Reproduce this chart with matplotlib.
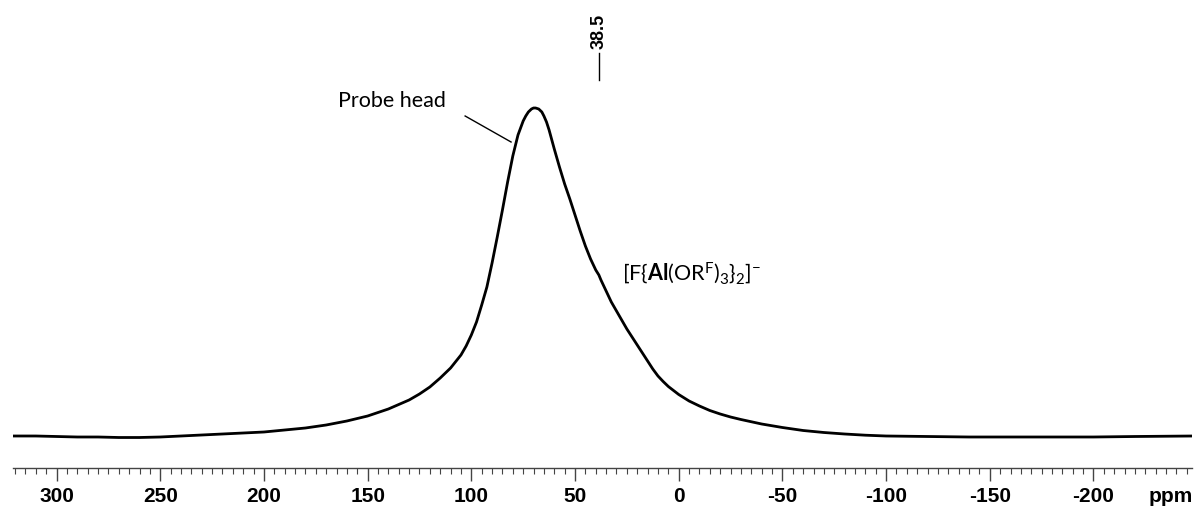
import matplotlib
matplotlib.use("Agg")
import matplotlib.pyplot as plt
import numpy as np

# Spectrum (chemical shift in ppm, intensity in arbitrary units)
ppm = [321, 310, 300, 290, 280, 270, 260, 250, 240, 230, 220, 210, 200, 190, 180,
       170, 160, 150, 140, 130, 125, 120, 115, 110, 105, 102.5, 100, 97.5, 95, 92.5, 90,
       87.5, 85, 82.5, 80, 77.5, 75, 73.75, 72.5, 71, 70, 69, 67.5, 66, 65, 63.75, 62.5,
       60, 57.5, 55, 52.5,
       50, 47.5, 45, 42.5, 40, 38.5, 37.5, 35, 32.5, 30, 27.5, 25, 22.5, 20, 17.5,
       15, 12.5, 10, 7.5, 5, 2.5, 0, -5, -10, -15, -20, -25, -30, -40, -50, -60,
       -70, -80, -90, -100, -120, -140, -160, -180, -200, -220, -248]
intensity = [1, 1, 0.5, 0, 0, -0.5, -0.5, 0, 1, 2, 3, 4, 5, 7, 9,
             12, 16, 21, 28, 37, 43, 50, 59, 69, 82, 91, 102, 115, 132, 150, 174,
             200, 227, 255, 281, 302, 316, 321, 325, 328, 329, 329, 328, 325, 321, 315, 307,
             288, 270, 253, 238,
             222, 206, 191, 178, 167, 162, 157, 146, 135, 126, 117, 108, 100, 92, 84,
             76, 68, 61, 55.5, 50.5, 46.5, 42.5, 36, 31, 26.5, 23, 20, 17.5, 13, 9.5, 6.5,
             4.5, 3, 1.8, 1, 0.5, 0, 0, 0, 0, 0.5, 1]

major_ticks = [300, 250, 200, 150, 100, 50, 0, -50, -100, -150, -200]
tick_labels = ["300", "250", "200", "150", "100", "50", "0", "-50", "-100", "-150", "-200"]

peak_label = "38.5"
peak_pos = 38.5

W, H = 1201, 514
fig = plt.figure(figsize=(W / 100, H / 100), dpi=100)
ax = fig.add_axes([13 / W, 1 - 468 / H, (1192 - 13) / W, 468 / H])

ax.plot(ppm, intensity, color="black", lw=2.0, solid_joinstyle="round")

ax.set_xlim(321, -247.5)
ax.set_ylim(437 - 468, 437)

for s in ["left", "right", "top"]:
    ax.spines[s].set_visible(False)
ax.spines["bottom"].set_color("#444444")
ax.spines["bottom"].set_linewidth(1.0)
ax.set_yticks([])

ax.set_xticks(major_ticks)
ax.set_xticklabels(tick_labels, fontfamily="Liberation Sans", fontweight="bold", fontsize=15)
ax.set_xticks(np.arange(320, -250, -5), minor=True)
ax.tick_params(axis="x", which="major", length=9, width=1.0, color="#444444", pad=5)
ax.tick_params(axis="x", which="minor", length=4, width=0.8, color="#444444")

fig.text(1171 / W, 1 - 497 / H, "ppm", ha="center", va="center",
         fontfamily="Liberation Sans", fontweight="bold", fontsize=15)

# peak marker
ax.plot([peak_pos, peak_pos], [437 - 80, 437 - 53], color="black", lw=1.0)
ax.text(peak_pos, 437 - 31, peak_label, rotation=90, ha="center", va="center",
        fontfamily="Liberation Sans", fontweight="bold", fontsize=13)

# Probe head annotation
ax.text((680 - 393) / 2.078, 437 - 101, "Probe head", ha="center", va="center",
        fontfamily="Lato", fontsize=15.5)
ax.plot([(680 - 466) / 2.078, (680 - 512) / 2.078], [437 - 116, 437 - 142], color="black", lw=1.0)

plt.rcParams["mathtext.fontset"] = "custom"
plt.rcParams["mathtext.rm"] = "Lato"
plt.rcParams["mathtext.bf"] = "Lato:bold"
plt.rcParams["mathtext.it"] = "Lato:italic"

anion = r"[F{$\mathbf{Al}$(OR$^{\mathrm{F}}$)$_{\mathrm{3}}$}$_{\mathrm{2}}$]$^{\mathrm{-}}$"
ax.text((680 - 623) / 2.078, 437 - 273, anion, ha="left", va="center",
        fontfamily="Lato", fontsize=15.5)

fig.savefig("out.png", dpi=100)
